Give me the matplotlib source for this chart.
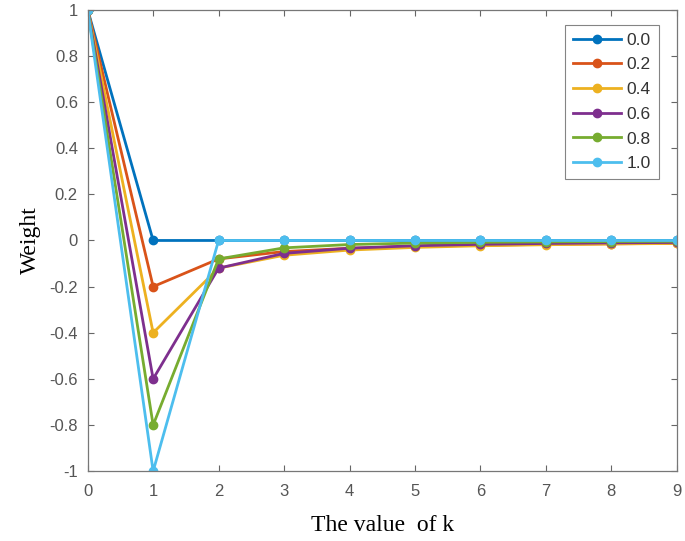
import matplotlib
matplotlib.use('Agg')
import matplotlib.pyplot as plt

k = [0, 1, 2, 3, 4, 5, 6, 7, 8, 9]
orders = ['0.0', '0.2', '0.4', '0.6', '0.8', '1.0']
w_00 = [1, 0, 0, 0, 0, 0, 0, 0, 0, 0]
w_02 = [1, -0.2, -0.08, -0.048, -0.0336, -0.0255, -0.0204, -0.0169, -0.0144, -0.0124]
w_04 = [1, -0.4, -0.12, -0.064, -0.0416, -0.030, -0.023, -0.0184, -0.0152, -0.0128]
w_06 = [1, -0.6, -0.12, -0.056, -0.0336, -0.0228, -0.0167, -0.0129, -0.0103, -0.0085]
w_08 = [1, -0.8, -0.08, -0.032, -0.0176, -0.0113, -0.0079, -0.0059, -0.0045, -0.0036]
w_10 = [1, -1, 0, 0, 0, 0, 0, 0, 0, 0]
weights = [w_00, w_02, w_04, w_06, w_08, w_10]

colors = ['#0072BD', '#D95319', '#EDB120', '#7E2F8E', '#77AC30', '#4DBEEE']

fig = plt.figure(figsize=(6.85, 5.41), dpi=100)
ax = fig.add_axes([0.128, 0.129, 0.86, 0.853])

for lab, w, c in zip(orders, weights, colors):
    ax.plot(k, w, color=c, lw=2, marker='o', ms=6, label=lab)

ax.set_xlim(0, 9)
ax.set_ylim(-1, 1)
ax.set_xticks(k)
ax.set_yticks([-1, -0.8, -0.6, -0.4, -0.2, 0, 0.2, 0.4, 0.6, 0.8, 1])
ax.set_yticklabels(['-1', '-0.8', '-0.6', '-0.4', '-0.2', '0', '0.2', '0.4', '0.6', '0.8', '1'])
ax.tick_params(direction='in', top=True, right=True, length=4, width=0.8,
               colors='#666666', labelcolor='#555555', labelsize=12)
ax.tick_params(axis='x', pad=9)
ax.tick_params(axis='y', pad=7)
for lbl in ax.get_xticklabels() + ax.get_yticklabels():
    lbl.set_family('Liberation Sans')
for sp in ax.spines.values():
    sp.set_color('#777777')
    sp.set_linewidth(0.9)

ax.set_xlabel('The value  of k', family='Liberation Serif', fontsize=17, labelpad=12)
ax.set_ylabel('Weight', family='Liberation Serif', fontsize=17, labelpad=6)

leg = ax.legend(loc='upper right', bbox_to_anchor=(0.975, 0.975), fancybox=False,
                prop={'family': 'Liberation Sans', 'size': 12.5}, handlelength=2.8,
                borderpad=0.45, labelspacing=0.55, handletextpad=0.3, borderaxespad=0.2,
                labelcolor='#333333')
leg.get_frame().set_edgecolor('#666666')
leg.get_frame().set_linewidth(0.8)

fig.savefig('out.png', dpi=100)
